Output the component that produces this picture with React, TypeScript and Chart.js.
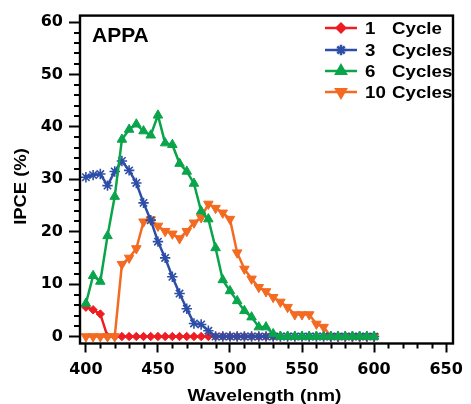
import React, { useEffect, useRef } from 'react';
import { Chart, registerables } from 'chart.js';
import { drawPoint } from 'chart.js/helpers';

Chart.register(...registerables);

const WAVELENGTH = [
  400, 405, 410, 415, 420, 425, 430, 435, 440, 445,
  450, 455, 460, 465, 470, 475, 480, 485, 490, 495,
  500, 505, 510, 515, 520, 525, 530, 535, 540, 545,
  550, 555, 560, 565, 570, 575, 580, 585, 590, 595, 600,
];

const CYCLE_1 = [
  5.6, 5.1, 4.3, 0, 0, 0, 0, 0, 0, 0,
  0, 0, 0, 0, 0, 0, 0, 0, 0, 0,
  0, 0, 0, 0, 0, 0, 0, 0, 0, 0,
  0, 0, 0, 0, 0, 0, 0, 0, 0, 0, 0,
];

const CYCLES_3 = [
  30.4, 30.8, 31.0, 28.8, 31.5, 33.5, 31.7, 29.3, 25.5, 22.2,
  18.1, 15.0, 11.4, 8.2, 5.3, 2.5, 2.3, 1.1, 0, 0,
  0, 0, 0, 0, 0, 0, 0, 0, 0, 0,
  0, 0, 0, 0, 0, 0, 0, 0, 0, 0, 0,
];

const CYCLES_6 = [
  6.3, 11.6, 10.5, 19.2, 26.7, 37.6, 39.5, 40.5, 39.2, 38.4,
  42.2, 36.9, 36.6, 33.0, 31.5, 29.2, 23.9, 22.4, 16.9, 10.8,
  8.7, 6.8, 4.9, 3.7, 1.8, 1.8, 0.5, 0, 0, 0,
  0, 0, 0, 0, 0, 0, 0, 0, 0, 0, 0,
];

const CYCLES_10 = [
  0, 0, 0, 0, 0, 13.8, 15.0, 16.8, 21.9, 22.3,
  21.1, 20.1, 19.6, 18.7, 20.1, 21.7, 22.7, 25.3, 24.5, 23.6,
  22.4, 16.0, 12.9, 11.0, 9.4, 8.6, 7.5, 6.6, 5.6, 4.2,
  4.2, 4.2, 2.4, 1.8, 0, 0, 0, 0, 0, 0, 0,
];

const X_TICKS = [400, 450, 500, 550, 600, 650];
const Y_TICKS = [0, 10, 20, 30, 40, 50, 60];
const X_MINOR_STEP = 10;
const Y_MINOR_STEP = 2;

const LEGEND_NUMBERS = ['1', '3', '6', '10'];
const LEGEND_WORDS = ['Cycle', 'Cycles', 'Cycles', 'Cycles'];

const RED = '#EE1D23';
const BLUE = '#2D4EA6';
const GREEN = '#0AA44B';
const ORANGE = '#F36A21';

const SERIES = [
  { values: CYCLE_1, color: RED, style: 'rectRot', radius: 4.2, rotation: 0, bw: 1, order: 3 },
  { values: CYCLES_3, color: BLUE, style: 'star', radius: 5.2, rotation: 0, bw: 1.6, order: 1 },
  { values: CYCLES_6, color: GREEN, style: 'triangle', radius: 5.5, rotation: 0, bw: 1, order: 0 },
  { values: CYCLES_10, color: ORANGE, style: 'triangle', radius: 5.5, rotation: 180, bw: 1, order: 2 },
];

const LABEL_FONT = '"Liberation Sans", Arial, sans-serif';

function stretchedText(ctx: CanvasRenderingContext2D, text: string, x: number, y: number, size: number, sx: number, align: CanvasTextAlign) {
  ctx.save();
  ctx.font = `bold ${size}px ${LABEL_FONT}`;
  ctx.textAlign = align;
  ctx.textBaseline = 'alphabetic';
  ctx.translate(x, y);
  ctx.scale(sx, 1);
  ctx.fillText(text, 0, 0);
  ctx.restore();
}

const decorPlugin = {
  id: 'decor',
  afterDraw(chart: any) {
    const { ctx, chartArea, scales } = chart;
    const xs = scales.x;
    const ys = scales.y;
    ctx.save();
    ctx.fillStyle = '#000';
    ctx.strokeStyle = '#000';

    // minor ticks
    ctx.lineWidth = 2;
    ctx.beginPath();
    for (let v = X_TICKS[0]; v <= X_TICKS[X_TICKS.length - 1]; v += X_MINOR_STEP) {
      if (X_TICKS.includes(v)) continue;
      const px = Math.round(xs.getPixelForValue(v)) + 0.5;
      ctx.moveTo(px, chartArea.bottom);
      ctx.lineTo(px, chartArea.bottom + 5);
    }
    for (let v = Y_TICKS[0]; v <= Y_TICKS[Y_TICKS.length - 1]; v += Y_MINOR_STEP) {
      if (Y_TICKS.includes(v)) continue;
      const py = Math.round(ys.getPixelForValue(v));
      ctx.moveTo(chartArea.left, py);
      ctx.lineTo(chartArea.left - 6, py);
    }
    ctx.stroke();

    // frame
    ctx.lineWidth = 2.4;
    ctx.strokeRect(chartArea.left, chartArea.top, chartArea.right - chartArea.left, chartArea.bottom - chartArea.top);

    // panel label
    stretchedText(ctx, 'APPA', 92, 41.5, 21, 1, 'left');

    // legend
    const rows = [34, 56, 77, 98];
    SERIES.forEach((s, i) => {
      const cy = rows[i] - 6;
      ctx.save();
      ctx.strokeStyle = s.color;
      ctx.fillStyle = s.color;
      ctx.lineWidth = 2.5;
      ctx.beginPath();
      ctx.moveTo(325, cy);
      ctx.lineTo(357, cy);
      ctx.stroke();
      drawPoint(ctx, { pointStyle: s.style, radius: s.radius, rotation: s.rotation, borderWidth: s.bw }, 341, cy);
      ctx.restore();
      stretchedText(ctx, LEGEND_NUMBERS[i], 365, rows[i], 17, 1.1, 'left');
      stretchedText(ctx, LEGEND_WORDS[i], 392, rows[i], 17, 1.1, 'left');
    });

    // axis titles
    stretchedText(ctx, 'Wavelength (nm)', 264.5, 401, 17, 1.13, 'center');
    ctx.save();
    ctx.translate(26, 186.5);
    ctx.rotate(-Math.PI / 2);
    stretchedText(ctx, 'IPCE (%)', 0, 0, 16, 1.15, 'center');
    ctx.restore();

    ctx.restore();
  },
};

export default function App() {
  const canvasRef = useRef<HTMLCanvasElement | null>(null);

  useEffect(() => {
    document.body.style.margin = '0';
    const canvas = canvasRef.current;
    if (!canvas) return;

    const datasets = SERIES.map((s, i) => ({
      label: `${LEGEND_NUMBERS[i]} ${LEGEND_WORDS[i]}`,
      data: WAVELENGTH.map((w, j) => ({ x: w, y: s.values[j] })),
      borderColor: s.color,
      backgroundColor: s.color,
      borderWidth: 2.5,
      pointStyle: s.style,
      pointRadius: s.radius,
      pointRotation: s.rotation,
      pointBorderWidth: s.bw,
      pointBackgroundColor: s.color,
      pointBorderColor: s.color,
      tension: 0,
      order: s.order,
    }));

    const tickFont = { family: '"DejaVu Sans", sans-serif', weight: 'bold' as const, size: 16 };

    const chart = new Chart(canvas, {
      type: 'line',
      data: { datasets },
      options: {
        animation: false,
        responsive: false,
        devicePixelRatio: 1,
        layout: { padding: { left: 0, top: 14, right: 12, bottom: 0 } },
        plugins: { legend: { display: false }, tooltip: { enabled: false } },
        scales: {
          x: {
            type: 'linear',
            min: 395.9,
            max: 654.8,
            afterBuildTicks: (scale: any) => {
              scale.ticks = X_TICKS.map((v) => ({ value: v }));
            },
            afterFit: (scale: any) => {
              scale.height = 60.5;
            },
            border: { display: false },
            grid: { drawOnChartArea: false, drawTicks: true, tickLength: 9, tickWidth: 2, tickColor: '#000' },
            ticks: { color: '#000', font: tickFont, padding: 8, maxRotation: 0, autoSkip: false },
          },
          y: {
            type: 'linear',
            min: -1.33,
            max: 61.23,
            afterBuildTicks: (scale: any) => {
              scale.ticks = Y_TICKS.map((v) => ({ value: v }));
            },
            afterFit: (scale: any) => {
              scale.width = 80;
            },
            border: { display: false },
            grid: { drawOnChartArea: false, drawTicks: true, tickLength: 11, tickWidth: 2, tickColor: '#000' },
            ticks: { color: '#000', font: tickFont, padding: 6, autoSkip: false },
          },
        },
      },
      plugins: [decorPlugin],
    });

    return () => chart.destroy();
  }, []);

  return (
    <div style={{ width: 471, height: 404, position: 'relative' }}>
      <canvas ref={canvasRef} width={471} height={404} style={{ width: 471, height: 404, display: 'block' }} />
    </div>
  );
}
